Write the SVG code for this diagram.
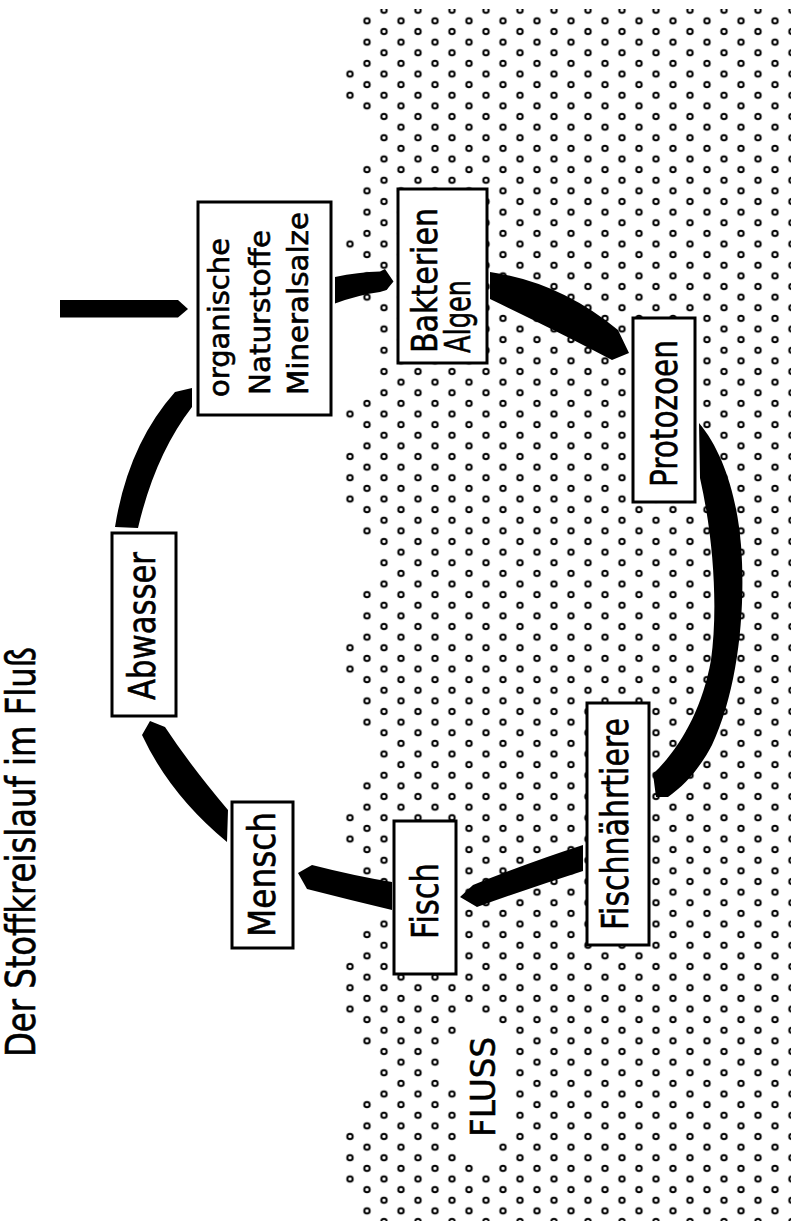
<svg xmlns="http://www.w3.org/2000/svg" width="791" height="1221" viewBox="0 0 791 1221">
<style>
.box{fill:#fff;stroke:#000;stroke-width:3}
.lbl{font-family:"DejaVu Sans","Liberation Sans",sans-serif;fill:#000;stroke:#000;stroke-width:0.6}
.arr{fill:#000;stroke:none}
</style>
<defs>
<pattern id="dots" patternUnits="userSpaceOnUse" x="341.5" y="4.9375" width="34" height="21.25">
<circle cx="8.5" cy="5.3125" r="2.7" fill="#fff" stroke="#000" stroke-width="2"/>
<circle cx="25.5" cy="15.9375" r="2.7" fill="#fff" stroke="#000" stroke-width="2"/>
</pattern>
<clipPath id="riverClip">
<path clip-rule="evenodd" d="M358,9 L358,64 L343,64 L343,106 L358,106 L358,116 L375,116 L375,160 L358,160 L358,236 L343,236 L343,255 L358,255 L358,310 L375,310 L375,395 L358,395 L358,405 L343,405 L343,420 L358,420 L358,448 L343,448 L343,508 L358,508 L358,540 L375,540 L375,588 L358,588 L358,640 L343,640 L343,678 L358,678 L358,732 L375,732 L375,778 L358,778 L358,810 L343,810 L343,848 L358,848 L358,880 L375,880 L375,925 L358,925 L358,958 L343,958 L343,1018 L358,1018 L358,1050 L375,1050 L375,1095 L358,1095 L358,1128 L343,1128 L343,1186 L358,1186 L358,1221 L791,1221 L791,9 Z M447,1044 L460,1044 L460,1014 L478,1014 L478,1024 L495,1024 L495,1036 L508,1036 L508,1140 L495,1140 L495,1163 L478,1163 L478,1152 L460,1152 L460,1080 L447,1080 Z"/>
</clipPath>
</defs>
<rect width="791" height="1221" fill="#fff"/>
<g id="river">
<rect x="340" y="0" width="451" height="1221" fill="url(#dots)" clip-path="url(#riverClip)"/>
<text class="lbl" font-size="34" transform="translate(495,1137) rotate(-90)" textLength="100" lengthAdjust="spacingAndGlyphs">FLUSS</text>
</g>
<g id="title">
<text class="lbl" font-size="40" transform="translate(35,1057) rotate(-90)" textLength="410" lengthAdjust="spacingAndGlyphs">Der Stoffkreislauf im Fluß</text>
</g>
<g id="connectors">
<path class="arr" d="M60,300 L178,300 L188,309 L178,317.5 L60,317.5 Z"/>
<path class="arr" d="M335,277 Q358,272 380,271.5 L385,269 L393.5,281.5 L386.5,290 L380,292 Q358,295 335,303.5 Z"/>
<path class="arr" d="M490,272 Q560,282 618,330 L629,353 L612,360 Q565,335 490,299 Z"/>
<path class="arr" d="M699,423 C722,450 737,495 741,545 C746,610 738,690 712,745 C700,768 685,785 668,797 L656,797 L653,774 C680,748 702,710 711,660 C718,610 714,540 700,478 Z"/>
<path class="arr" d="M583,845 Q530,862 473,885 L460,897 L477,907 Q530,888 583,871 Z"/>
<path class="arr" d="M392,882 Q355,876 312,865 L298,873 L307,889 Q350,900 392,910 Z"/>
<path class="arr" d="M228,810 Q190,765 165,727 L150,721 L142,735 Q170,795 227,842 Z"/>
<path class="arr" d="M115,527 Q128,445 175,392 L192,388 L192,407 Q155,455 138,528 Z"/>
</g>
<g id="node-organische">
<rect class="box" x="198" y="202" width="133" height="213"/>
<text class="lbl" font-size="28" transform="translate(229,397) rotate(-90)" textLength="159" lengthAdjust="spacingAndGlyphs">organische</text>
<text class="lbl" font-size="28" transform="translate(270,395) rotate(-90)" textLength="165" lengthAdjust="spacingAndGlyphs">Naturstoffe</text>
<text class="lbl" font-size="28" transform="translate(308,395) rotate(-90)" textLength="183" lengthAdjust="spacingAndGlyphs">Mineralsalze</text>
</g>
<g id="node-bakterien">
<rect class="box" x="398" y="189" width="89" height="174"/>
<text class="lbl" font-size="36" transform="translate(437,353) rotate(-90)" textLength="145" lengthAdjust="spacingAndGlyphs">Bakterien</text>
<text class="lbl" font-size="36" transform="translate(470,353) rotate(-90)" textLength="73" lengthAdjust="spacingAndGlyphs">Algen</text>
</g>
<g id="node-protozoen">
<rect class="box" x="633" y="318" width="62" height="184"/>
<text class="lbl" font-size="37" transform="translate(677,487) rotate(-90)" textLength="147" lengthAdjust="spacingAndGlyphs">Protozoen</text>
</g>
<g id="node-fischnaehrtiere">
<rect class="box" x="587" y="703" width="62" height="242"/>
<text class="lbl" font-size="37" transform="translate(628,930) rotate(-90)" textLength="212" lengthAdjust="spacingAndGlyphs">Fischnährtiere</text>
</g>
<g id="node-fisch">
<rect class="box" x="394" y="821" width="62" height="153"/>
<text class="lbl" font-size="37" transform="translate(438,939) rotate(-90)" textLength="76" lengthAdjust="spacingAndGlyphs">Fisch</text>
</g>
<g id="node-mensch">
<rect class="box" x="232" y="802" width="61" height="146"/>
<text class="lbl" font-size="37" transform="translate(275,937) rotate(-90)" textLength="125" lengthAdjust="spacingAndGlyphs">Mensch</text>
</g>
<g id="node-abwasser">
<rect class="box" x="112" y="533" width="64" height="183"/>
<text class="lbl" font-size="37" transform="translate(155,700) rotate(-90)" textLength="148" lengthAdjust="spacingAndGlyphs">Abwasser</text>
</g>
</svg>
